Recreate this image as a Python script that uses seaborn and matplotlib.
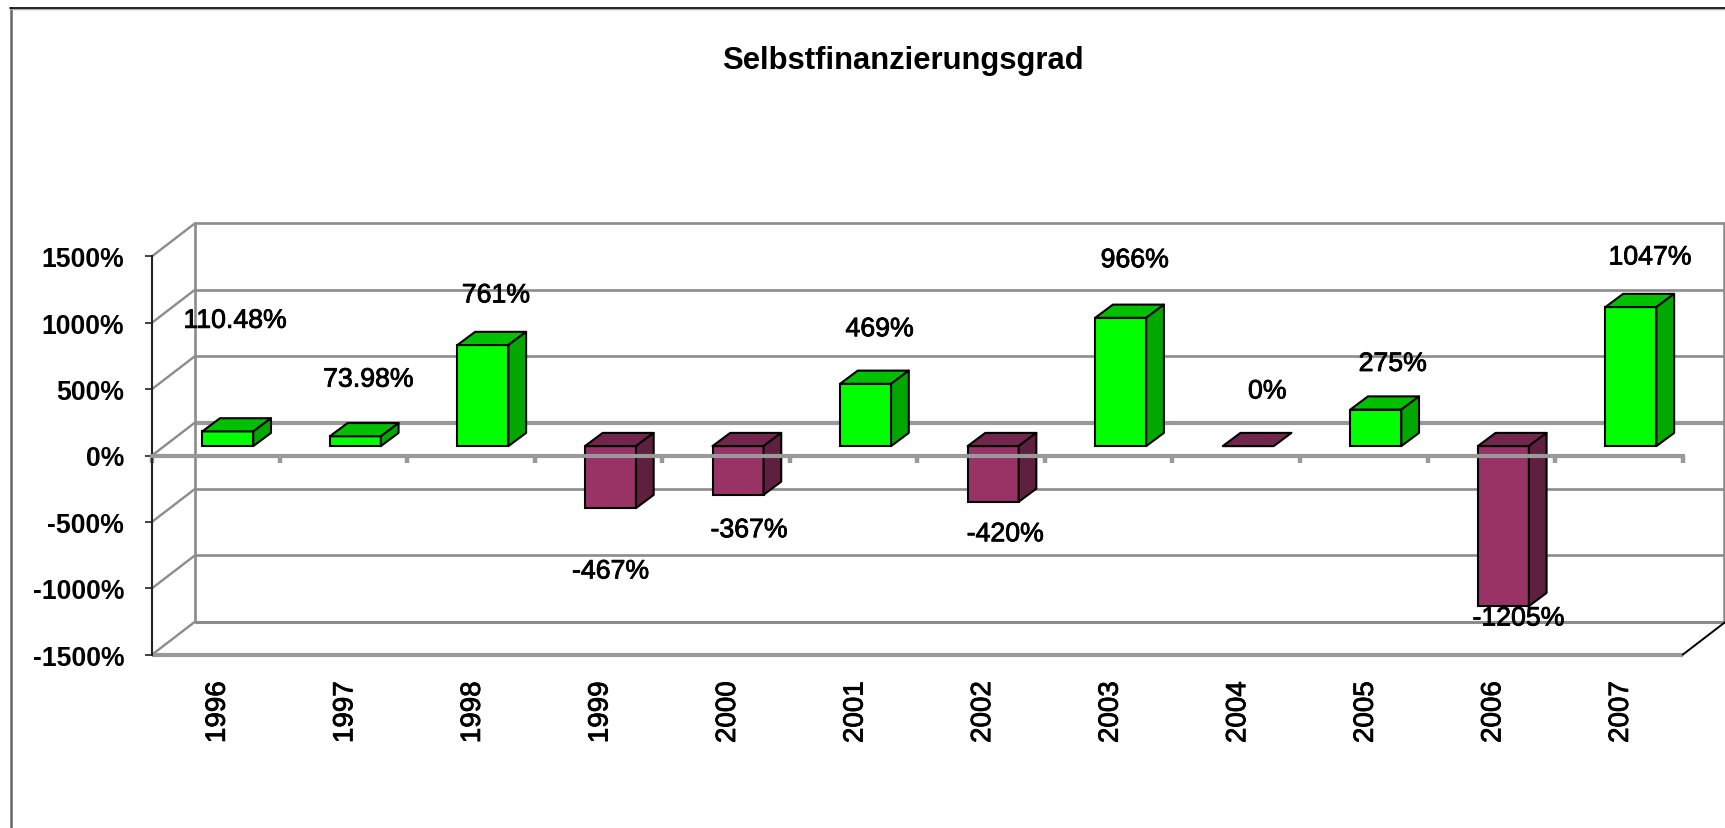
import matplotlib

matplotlib.use('Agg')
import matplotlib.patheffects as pe
import matplotlib.pyplot as plt
from matplotlib.lines import Line2D
from matplotlib.patches import Polygon
from matplotlib.transforms import Affine2D
import pandas as pd
import seaborn as sns

# values
years = ['1996', '1997', '1998', '1999', '2000', '2001', '2002', '2003', '2004', '2005', '2006', '2007']
values = [110.48, 73.98, 761, -467, -367, 469, -420, 966, 0, 275, -1205, 1047]
labels = ['110.48%', '73.98%', '761%', '-467%', '-367%', '469%', '-420%', '966%', '0%', '275%', '-1205%', '1047%']
y_ticks = [-1500, -1000, -500, 0, 500, 1000, 1500]

# the data labels were dragged around by hand in the original, offsets in pixels
label_dx = [19, 25, 25, 12, 23, 26, 24, 26, 31, 29, 27, 31]
label_dy = [120, 66, 59, -54, -26, 64, -23, 67, 64, 55, -3, 59]

W, H = 1725, 829
LEFT, RIGHT, TOP, BOTTOM = 152, 1682.7, 257.3, 655.7
PX_X = (RIGHT - LEFT) / 12
PX_Y = (BOTTOM - TOP) / 3000

# fake 3d depth, in data units
WALL_X, WALL_Y = 43 / PX_X, 33 / PX_Y
RIGHT_WALL_X = 41.5 / PX_X
BAR_SHIFT_X, BAR_SHIFT_Y = 12 / PX_X, 9.4 / PX_Y
BAR_X, BAR_Y = 17.7 / PX_X, 13.2 / PX_Y

GREEN = ('#00ff00', '#00c000', '#00a800')
PURPLE = ('#993366', '#73264d', '#5f2040')
GRID = '#8c8c8c'
THICK = '#999999'

sns.set_style('white')
plt.rcParams['font.family'] = ['Liberation Sans', 'DejaVu Sans']

# the screenshot text is blurred and looks heavier than plain regular
heavy = [pe.withStroke(linewidth=0.6, foreground='black')]

df = pd.DataFrame({'year': years, 'value': values})
df['kind'] = ['pos' if v > 0 else 'neg' for v in df['value']]

fig = plt.figure(figsize=(W / 100, H / 100), dpi=100)
ax = fig.add_axes([LEFT / W, 1 - BOTTOM / H, (RIGHT - LEFT) / W, (BOTTOM - TOP) / H])
ax.patch.set_visible(False)

sns.barplot(data=df, x='year', y='value', hue='kind', order=years, hue_order=['pos', 'neg'],
            palette={'pos': GREEN[0], 'neg': PURPLE[0]}, dodge=False, width=0.4, legend=False,
            saturation=1, edgecolor='black', linewidth=1.5, ax=ax)
ax.set_xlim(-0.5, 11.5)
ax.set_ylim(-1500, 1500)
ax.set_xlabel('')
ax.set_ylabel('')

# push the bars into the box and add top and side faces
for bar in list(ax.patches):
    x0, w, v = bar.get_x(), bar.get_width(), bar.get_height()
    y0 = bar.get_y()
    cols = GREEN if v > 0 else PURPLE
    x0 += BAR_SHIFT_X
    y0 += BAR_SHIFT_Y
    bar.set_x(x0)
    bar.set_y(y0)
    bar.set_clip_on(False)
    high = max(y0, y0 + v)
    low = min(y0, y0 + v)
    x1 = x0 + w
    top = [(x0, high), (x1, high), (x1 + BAR_X, high + BAR_Y), (x0 + BAR_X, high + BAR_Y)]
    ax.add_patch(Polygon(top, facecolor=cols[1], edgecolor='black', lw=1.5, zorder=bar.get_zorder(),
                         joinstyle='round', clip_on=False))
    if high > low:
        side = [(x1, low), (x1 + BAR_X, low + BAR_Y), (x1 + BAR_X, high + BAR_Y), (x1, high)]
        ax.add_patch(Polygon(side, facecolor=cols[2], edgecolor='black', lw=1.5, zorder=bar.get_zorder(),
                             joinstyle='round', clip_on=False))

# back wall and left wall
x_left, x_right = -0.5, 11.5
for t in y_ticks:
    lw = 3 if t == 0 else (2.2 if t == -1500 else 1.9)
    ax.plot([x_left + WALL_X, x_right + WALL_X], [t + WALL_Y, t + WALL_Y], color=THICK if t == 0 else GRID,
            lw=lw, zorder=0.5, clip_on=False, solid_capstyle='butt')
    ax.plot([x_left, x_left + WALL_X], [t, t + WALL_Y], color=GRID, lw=1.7, zorder=0.5, clip_on=False)
ax.plot([x_left + WALL_X] * 2, [-1500 + WALL_Y, 1500 + WALL_Y], color=GRID, lw=1.9, zorder=0.5, clip_on=False)
ax.plot([x_right + RIGHT_WALL_X] * 2, [-1500 + WALL_Y, 1500 + WALL_Y], color=GRID, lw=1.9, zorder=0.5,
        clip_on=False)
ax.plot([x_left, x_right], [-1500, -1500], color=THICK, lw=3, zorder=0.6, clip_on=False,
        solid_capstyle='butt')
ax.plot([x_right, x_right + WALL_X], [-1500, -1500 + WALL_Y], color='black', lw=1.4, zorder=0.6, clip_on=False)

# axes: black value axis, thick grey zero line with ticks between the categories
for side in ['top', 'right']:
    ax.spines[side].set_visible(False)
ax.spines['left'].set_color('#222222')
ax.spines['left'].set_linewidth(1.5)
ax.spines['bottom'].set_position(('data', 0))
ax.spines['bottom'].set_color(THICK)
ax.spines['bottom'].set_linewidth(3)

ax.set_yticks(y_ticks)
ax.set_yticklabels([f'{t}%' for t in y_ticks], fontsize=19.2, fontweight='bold', color='black')
ax.tick_params(axis='y', left=True, length=5, width=1.2, color='#222222', pad=15)
ax.set_xticks(range(len(years)))
ax.set_xticklabels(years, rotation=90, fontsize=20, va='top', ha='center', color='black', path_effects=heavy)
ax.tick_params(axis='x', which='major', bottom=False, length=0, pad=162.5)
ax.set_xticks([i - 0.5 for i in range(len(years) + 1)], minor=True)
ax.tick_params(axis='x', which='minor', bottom=True, length=5, width=3.2, color=THICK)
for tick_label in ax.get_xticklabels():
    tick_label.set_transform(tick_label.get_transform() + Affine2D().translate(2, 0))

for i, (v, txt) in enumerate(zip(values, labels)):
    ax.annotate(txt, xy=(i, v), xytext=(label_dx[i], label_dy[i]), textcoords='offset pixels', ha='center',
                va='center', fontsize=19.2, color='black', annotation_clip=False, zorder=5, path_effects=heavy)

fig.text(903 / W, 1 - 61 / H, 'Selbstfinanzierungsgrad', ha='center', va='center', fontsize=22.3,
         fontweight='bold', color='black')

# chart frame, the right and bottom sides are cut off in the screenshot
fig.add_artist(Line2D([10.5 / W, 10.5 / W], [0, 1 - 9 / H], color='#666666', lw=1.8))
fig.add_artist(Line2D([9.5 / W, 1], [1 - 9.7 / H, 1 - 9.7 / H], color='#aaaaaa', lw=1))
fig.add_artist(Line2D([9.5 / W, 1], [1 - 8.5 / H, 1 - 8.5 / H], color='black', lw=1.2))

fig.savefig('out.png', dpi=100)
